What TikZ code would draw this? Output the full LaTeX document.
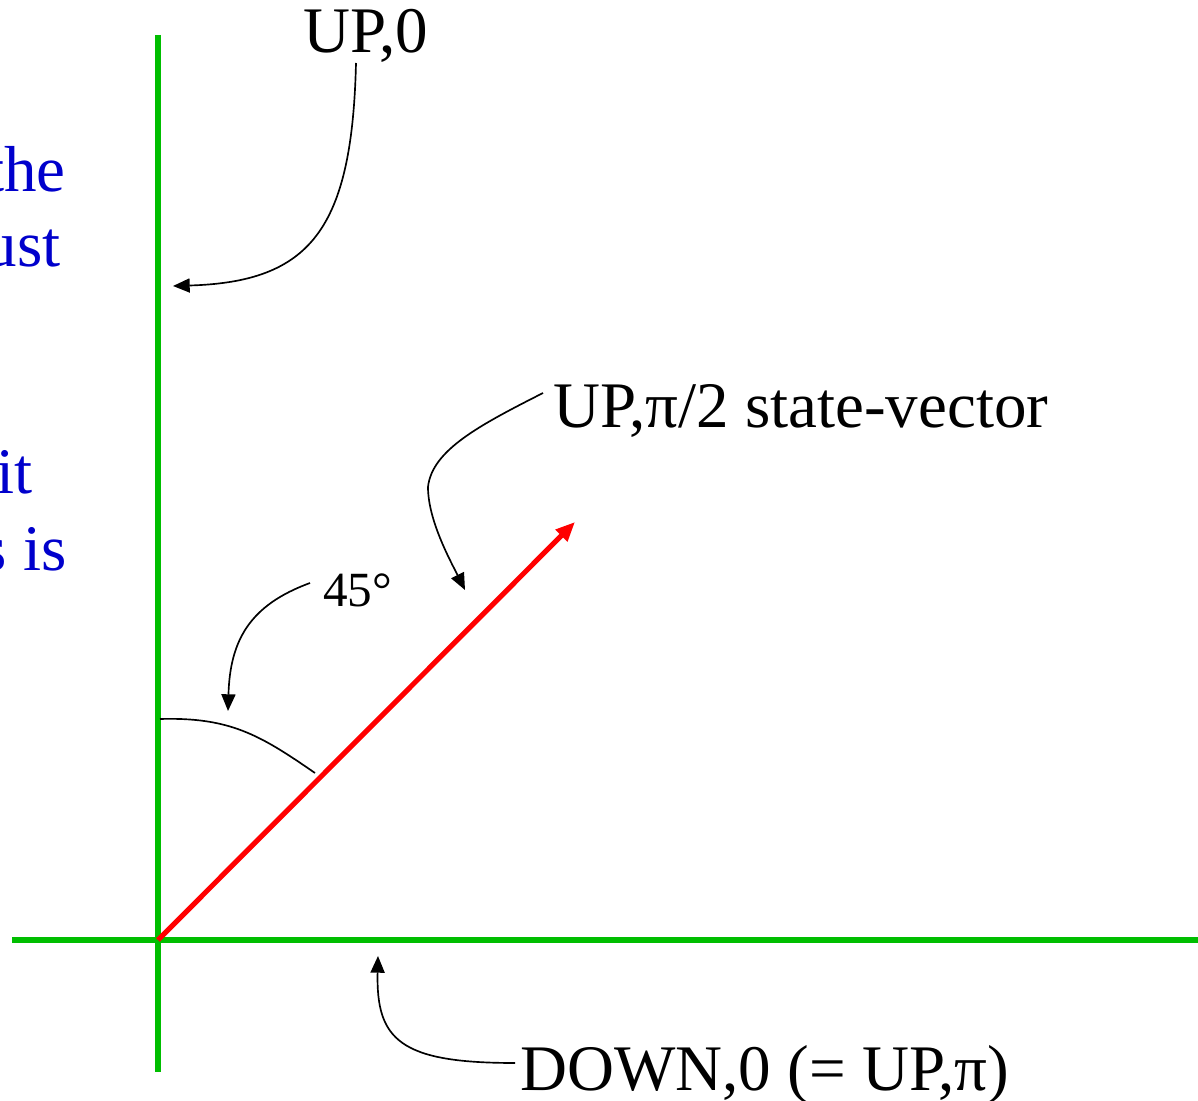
\documentclass[tikz,border=0pt]{standalone}
\usepackage{fontspec}
\setmainfont{Liberation Serif}
\usetikzlibrary{arrows.meta,calc}
\definecolor{axisGreen}{RGB}{0,190,0}
\definecolor{vecRed}{RGB}{255,0,0}
\definecolor{noteBlue}{RGB}{0,0,204}
\tikzset{
  axisline/.style={draw=axisGreen, line width=2.9pt},
  vecline/.style={draw=vecRed, line width=2.9pt,
    -{Triangle[length=11pt,width=9pt]}},
  pointer/.style={draw=black, line width=0.95pt,
    -{Triangle[length=9.5pt,width=8pt]}},
  anglearc/.style={draw=black, line width=0.95pt},
  biglabel/.style={font=\fontsize{37}{41}\selectfont, inner sep=0pt,
    anchor=base west},
  anglelabel/.style={font=\fontsize{28}{32}\selectfont, inner sep=0pt,
    anchor=base west},
  sidenote/.style={font=\fontsize{37}{41}\selectfont, text=noteBlue,
    inner sep=0pt, anchor=base east},
}

\begin{document}
\begin{tikzpicture}[x=0.02cm,y=-0.02cm]
  \useasboundingbox (0,0) rectangle (1198,1101);

  % clipped words of the text column on the left
  \node[sidenote] (notethe) at (66,192) {the};
  \node[sidenote] (noteust) at (61,267) {ust};
  \node[sidenote] (noteit) at (33,494) {it};
  \node[sidenote] (notesis) at (67,571) {s is};

  % axes and the state vector
  \coordinate (origin) at (158,940);
  \coordinate (vaxtop) at (158,35);
  \coordinate (vaxbot) at (158,1072);
  \coordinate (haxleft) at (12,940);
  \coordinate (haxright) at (1198,940);
  \coordinate (vectip) at (575,522);
  \draw[axisline] (vaxtop)--(vaxbot);
  \draw[axisline] (haxleft)--(haxright);
  \draw[vecline] (origin)--(vectip);

  % angle mark
  \coordinate (arcstart) at (160,719);
  \coordinate (arcend) at (315,773);
  \draw[anglearc] (arcstart) .. controls (230,717) and (260,735) .. (arcend);

  % labels
  \node[biglabel] (upzero) at (303,53) {UP,0};
  \node[biglabel] (upstate) at (553,428) {UP,π/2 state-vector};
  \node[anglelabel] (angle) at (323,607) {45°};
  \node[biglabel] (downzero) at (520,1090) {DOWN,0 (= UP,π)};

  % pointers from the labels
  \coordinate (upzerotip) at (173,286);
  \coordinate (upstatebend) at (428,487);
  \coordinate (upstatetip) at (465,590);
  \coordinate (angletip) at (228,711);
  \coordinate (downzerotip) at (378,956);
  \draw[pointer] ($(upzero.base west)+(53,10)$)
    .. controls (352,230) and (310,282) .. (upzerotip);
  \draw[pointer] ($(upstate.base west)+(-10,-35)$)
    .. controls (480,425) and (432,450) .. (upstatebend)
    .. controls (428,520) and (450,560) .. (upstatetip);
  \draw[pointer] ($(angle.base west)+(-13,-24)$)
    .. controls (250,605) and (230,640) .. (angletip);
  \draw[pointer] ($(downzero.base west)+(-5,-27)$)
    .. controls (400,1063) and (376,1040) .. (downzerotip);
\end{tikzpicture}
\end{document}
